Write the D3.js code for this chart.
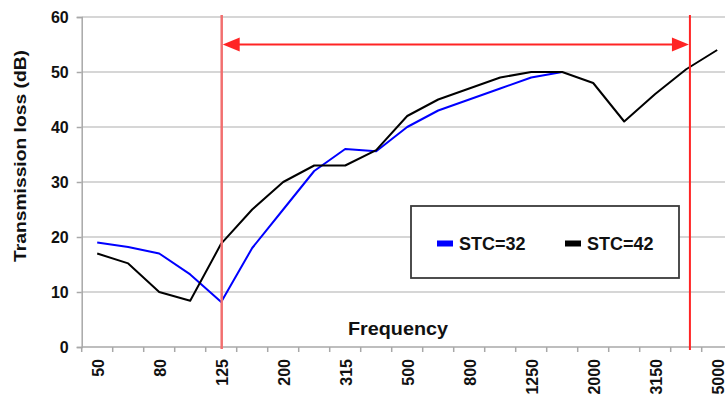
<!DOCTYPE html>
<html><head><meta charset="utf-8">
<script src="https://cdn.jsdelivr.net/npm/d3@7"></script>
<style>body{margin:0;background:#fff;overflow:hidden}</style>
</head><body><svg id="c" width="725" height="396"></svg>
<script>
const frequencies = ["50","63","80","100","125","160","200","250","315","400","500","630","800","1000","1250","1600","2000","2500","3150","4000","5000"];
const tickLabels = ["50","80","125","200","315","500","800","1250","2000","3150","5000"];
const stc32 = [19,18.2,17,13.2,8.2,18,25,32,36,35.6,40,43,45,47,49,50,null,null,null,null,null];
const stc42 = [17,15.2,10,8.4,18.8,25,30,33,33,35.8,42,45,47,49,50,50,48,41,46,50.5,54];
const seriesNames = ["STC=32","STC=42"];
const seriesColors = ["#0000ff","#000000"];
const yTicks = [0,10,20,30,40,50,60];
const rangeStart = "125";
const rangeEnd = "4000";
const arrowLevel = 55;

(function(){
const svg = d3.select("#c");
const pLeft = 81.7, band = 31, pTop = 17, pBottom = 347;
const x = d3.scaleBand().domain(frequencies).range([pLeft, pLeft + band*frequencies.length]).padding(0);
const y = d3.scaleLinear().domain([0,60]).range([pBottom, pTop]);
const cx = f => x(f) + x.bandwidth()/2;
const FONT = "Liberation Sans, Arial, sans-serif";

// gridlines
svg.append("g").selectAll("line").data(yTicks.filter(d=>d>0)).join("line")
  .attr("x1", pLeft).attr("x2", 725).attr("y1", d=>y(d)).attr("y2", d=>y(d))
  .attr("stroke", "#c8c8c8").attr("stroke-width", 1.5);

// y axis
const yAxis = svg.append("g").attr("transform", `translate(${pLeft},0)`)
  .call(d3.axisLeft(y).tickValues(yTicks).tickSize(5).tickPadding(8));
yAxis.select(".domain").attr("stroke", "#a8a8a8").attr("stroke-width", 1.5);
yAxis.selectAll(".tick line").attr("stroke", "#a8a8a8").attr("stroke-width", 1.5);
yAxis.selectAll("text").attr("font-family", FONT)
  .attr("font-size", 16).attr("font-weight", "bold").attr("fill", "#111");

// x axis line and ticks at band boundaries
svg.append("line").attr("x1", pLeft).attr("x2", 725).attr("y1", pBottom).attr("y2", pBottom)
  .attr("stroke", "#a8a8a8").attr("stroke-width", 1.5);
svg.append("g").selectAll("line").data(frequencies).join("line")
  .attr("x1", d=>x(d)).attr("x2", d=>x(d)).attr("y1", pBottom).attr("y2", pBottom+5)
  .attr("stroke", "#a8a8a8").attr("stroke-width", 1.5);
svg.append("g").selectAll("text").data(tickLabels).join("text")
  .attr("transform", d=>`translate(${cx(d)+1},${pBottom+12}) rotate(-90)`)
  .attr("text-anchor", "end").attr("dy", "0.36em")
  .attr("font-family", FONT)
  .attr("font-size", 16).attr("font-weight", "bold").attr("fill", "#111")
  .text(d=>d);

// axis titles
svg.append("text").attr("x", 398).attr("y", 335).attr("text-anchor", "middle")
  .attr("font-family", FONT).attr("font-size", 19).attr("textLength", 100).attr("lengthAdjust", "spacingAndGlyphs")
  .attr("font-weight", "bold").attr("fill", "#111").text("Frequency");
svg.append("text").attr("transform", "translate(26,156) rotate(-90)").attr("text-anchor", "middle")
  .attr("font-family", FONT).attr("font-size", 17).attr("textLength", 212).attr("lengthAdjust", "spacingAndGlyphs")
  .attr("font-weight", "bold").attr("fill", "#111").text("Transmission loss (dB)");

// legend box
const lg = svg.append("g");
lg.append("rect").attr("x", 411).attr("y", 206).attr("width", 268).attr("height", 72)
  .attr("fill", "#fff").attr("stroke", "#3a3a3a").attr("stroke-width", 1.8);
const legendX = [437, 565];
seriesNames.forEach((n,i)=>{
  lg.append("rect").attr("x", legendX[i]).attr("y", 240.5).attr("width", 16).attr("height", 6)
    .attr("fill", seriesColors[i]);
  lg.append("text").attr("x", legendX[i]+22).attr("y", 250)
    .attr("font-family", FONT).attr("font-size", 18)
    .attr("font-weight", "bold").attr("fill", "#111").text(n);
});

// series lines
const line = d3.line().defined(d=>d[1]!=null).x(d=>cx(d[0])).y(d=>y(d[1]));
[stc32, stc42].forEach((s,i)=>{
  svg.append("path").datum(frequencies.map((f,j)=>[f,s[j]]))
    .attr("d", line).attr("fill", "none").attr("stroke", seriesColors[i])
    .attr("stroke-width", 2).attr("stroke-linejoin", "round");
});

// range annotation
const xa = cx(rangeStart) + 0.5;
const xb = cx(rangeEnd) + 0.12*band;
svg.append("line").attr("x1", xa).attr("x2", xa).attr("y1", y(60)-2).attr("y2", y(0)+2)
  .attr("stroke", "#f26f6f").attr("stroke-width", 2.5);
svg.append("line").attr("x1", xb).attr("x2", xb).attr("y1", y(60)-2).attr("y2", y(0)+3)
  .attr("stroke", "#ff2424").attr("stroke-width", 2);
const ay = y(arrowLevel);
svg.append("line").attr("x1", xa+10).attr("x2", xb-10).attr("y1", ay).attr("y2", ay)
  .attr("stroke", "#ff2424").attr("stroke-width", 2);
svg.append("path").attr("d", `M${xa+1},${ay} L${xa+18},${ay-7} L${xa+18},${ay+7} Z`).attr("fill", "#ff2424");
svg.append("path").attr("d", `M${xb-1},${ay} L${xb-18},${ay-7} L${xb-18},${ay+7} Z`).attr("fill", "#ff2424");
})();
</script></body></html>
